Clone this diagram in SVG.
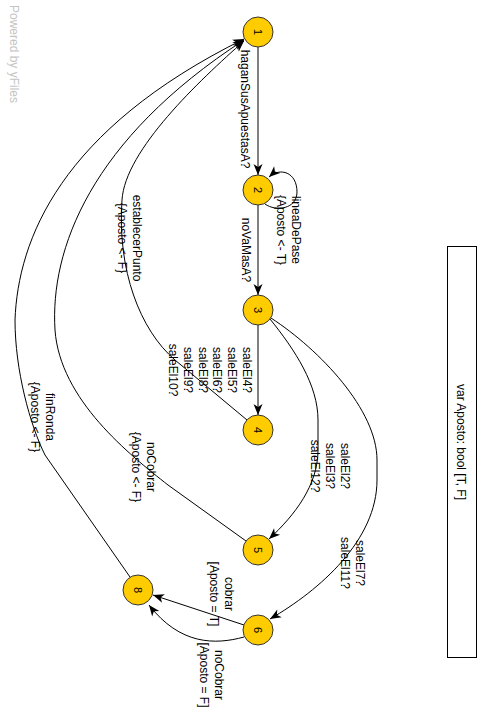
<svg xmlns="http://www.w3.org/2000/svg" width="492" height="725" viewBox="0 0 492 725">
  <style>
    .bg { fill: #ffffff; }
    .node circle { fill: #ffcc00; stroke: #333333; stroke-width: 1; }
    .node text { font-family: "Liberation Sans", Arial, sans-serif; font-size: 11px; fill: #000000; text-anchor: middle; }
    .edge { fill: none; stroke: #000000; stroke-width: 1; }
    .lbl { font-family: "Liberation Sans", Arial, sans-serif; font-size: 12px; fill: #000000; text-anchor: middle; }
    .note rect { fill: #ffffff; stroke: #000000; stroke-width: 1; }
    .brand { font-family: "Liberation Sans", Arial, sans-serif; font-size: 12px; fill: #c4c4c4; }
  </style>
  <defs>
    <marker id="arrow" markerUnits="userSpaceOnUse" viewBox="-12 -6 13 12" refX="0" refY="0" markerWidth="13" markerHeight="12" orient="auto">
      <path d="M0,0 L-11,-4.5 L-8,0 L-11,4.5 Z" fill="#000000"/>
    </marker>
  </defs>
  <rect class="bg" x="0" y="0" width="492" height="725"/>

  <text class="brand" transform="translate(10,5) rotate(90)">Powered by yFiles</text>

  <!-- transitions -->
  <g id="connectors">
    <path class="edge" marker-end="url(#arrow)" d="M258,47 L258,175"/>
    <path class="edge" marker-end="url(#arrow)" d="M265,204 C276,212 297,209 297,192 C297,172 280,167 269,177"/>
    <path class="edge" marker-end="url(#arrow)" d="M258,205 L258,295"/>
    <path class="edge" marker-end="url(#arrow)" d="M258,325 L258,415"/>
    <path class="edge" marker-end="url(#arrow)" d="M270,319 C295,350 318,385 318,420 L318,450 C318,485 295,515 269,539"/>
    <path class="edge" marker-end="url(#arrow)" d="M271,318 C320,350 377,410 377,460 L377,480 C377,540 320,590 270,619"/>
    <path class="edge" marker-end="url(#arrow)" d="M247,420 L175,360 C140,330 117,270 122,200 C125,150 200,80 244,41"/>
    <path class="edge" marker-end="url(#arrow)" d="M246,541 L168,485 C130,455 60,400 55,330 C50,250 90,140 244,40"/>
    <path class="edge" marker-end="url(#arrow)" d="M130,577 L45,455 C30,425 15,370 15,320 C18,240 60,130 244,39"/>
    <path class="edge" marker-end="url(#arrow)" d="M244,625 L153,595"/>
    <path class="edge" marker-end="url(#arrow)" d="M244,637 C215,645 180,645 149,605"/>
  </g>

  <!-- transition labels -->
  <g id="edge-labels">
    <text class="lbl" transform="translate(241,109) rotate(90)">haganSusApuestasA?</text>
    <text class="lbl" transform="translate(292,230) rotate(90)"><tspan x="0" dy="0">lineaDePase</tspan><tspan x="0" dy="14.8">{Aposto &lt;- T}</tspan></text>
    <text class="lbl" transform="translate(242,250) rotate(90)">noVaMasA?</text>
    <text class="lbl" transform="translate(243,370) rotate(90)"><tspan x="0" dy="0">saleEl4?</tspan><tspan x="0" dy="14.8">saleEl5?</tspan><tspan x="0" dy="14.8">saleEl6?</tspan><tspan x="0" dy="14.8">saleEl8?</tspan><tspan x="0" dy="14.8">saleEl9?</tspan><tspan x="0" dy="14.8">saleEl10?</tspan></text>
    <text class="lbl" transform="translate(341,466) rotate(90)"><tspan x="0" dy="0">saleEl2?</tspan><tspan x="0" dy="14.8">saleEl3?</tspan><tspan x="0" dy="14.8">saleEl12?</tspan></text>
    <text class="lbl" transform="translate(356,563) rotate(90)"><tspan x="0" dy="0">saleEl7?</tspan><tspan x="0" dy="14.8">saleEl11?</tspan></text>
    <text class="lbl" transform="translate(133,238) rotate(90)"><tspan x="0" dy="0">establecerPunto</tspan><tspan x="0" dy="14.8">{Aposto &lt;- F}</tspan></text>
    <text class="lbl" transform="translate(147,467) rotate(90)"><tspan x="0" dy="0">noCobrar</tspan><tspan x="0" dy="14.8">{Aposto &lt;- F}</tspan></text>
    <text class="lbl" transform="translate(46,417) rotate(90)"><tspan x="0" dy="0">finRonda</tspan><tspan x="0" dy="14.8">{Aposto &lt;- F}</tspan></text>
    <text class="lbl" transform="translate(225,594) rotate(90)"><tspan x="0" dy="0">cobrar</tspan><tspan x="0" dy="14.8">[Aposto = T]</tspan></text>
    <text class="lbl" transform="translate(215,675) rotate(90)"><tspan x="0" dy="0">noCobrar</tspan><tspan x="0" dy="14.8">[Aposto = F]</tspan></text>
  </g>

  <!-- states -->
  <g id="n1" class="node"><circle cx="258" cy="32" r="15"/><text transform="translate(258,32) rotate(90)" dy="0.35em">1</text></g>
  <g id="n2" class="node"><circle cx="258" cy="190" r="15"/><text transform="translate(258,190) rotate(90)" dy="0.35em">2</text></g>
  <g id="n3" class="node"><circle cx="258" cy="310" r="15"/><text transform="translate(258,310) rotate(90)" dy="0.35em">3</text></g>
  <g id="n4" class="node"><circle cx="258" cy="430" r="15"/><text transform="translate(258,430) rotate(90)" dy="0.35em">4</text></g>
  <g id="n5" class="node"><circle cx="258" cy="550" r="15"/><text transform="translate(258,550) rotate(90)" dy="0.35em">5</text></g>
  <g id="n6" class="node"><circle cx="258" cy="630" r="15"/><text transform="translate(258,630) rotate(90)" dy="0.35em">6</text></g>
  <g id="n8" class="node"><circle cx="138" cy="590" r="15"/><text transform="translate(138,590) rotate(90)" dy="0.35em">8</text></g>

  <!-- variable declaration -->
  <g id="vars" class="note">
    <rect x="447.5" y="246.5" width="29" height="411"/>
    <text class="lbl" transform="translate(457,442) rotate(90)">var Aposto: bool [T, F]</text>
  </g>
</svg>
